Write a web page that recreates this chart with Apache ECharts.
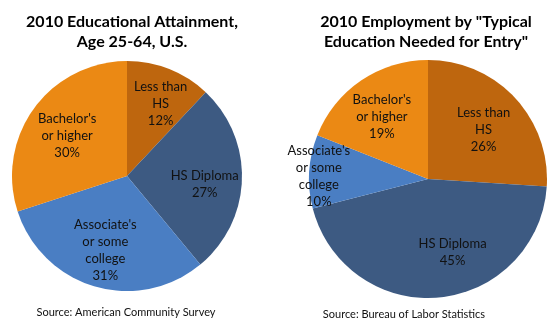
<!DOCTYPE html>
<html>
<head>
<meta charset="utf-8">
<script src="https://cdn.jsdelivr.net/npm/echarts@6/dist/echarts.min.js"></script>
<style>
html,body{margin:0;padding:0;background:#fff;}
#chart{width:559px;height:322px;}
</style>
</head>
<body>
<div id="chart"></div>
<script>
// Data
const categories = ["Less than\nHS", "HS Diploma", "Associate's\nor some\ncollege", "Bachelor's\nor higher"];
const attainmentValues = [12, 27, 31, 30];
const employmentValues = [26, 45, 10, 19];
const titles = ["2010 Educational Attainment,\nAge 25-64, U.S.", "2010 Employment by \"Typical\nEducation Needed for Entry\""];
const sources = ["Source: American Community Survey", "Source: Bureau of Labor Statistics"];

const colors = ["#BE660E", "#3D5A82", "#4A7EC3", "#EB8914"];
const FONT = "Lato, 'Open Sans', sans-serif";

function baseData(values) {
  return categories.map((c, i) => ({ name: c, value: values[i], itemStyle: { color: colors[i] } }));
}
function labelData(values) {
  return categories.map((c, i) => ({ name: c, value: values[i] }));
}

const pies = [
  { values: attainmentValues, center: [127, 176], r: 115 },
  { values: employmentValues, center: [428, 179], r: 119 }
];

// per-label nudges (pixels) for each pie, by slice index
const labelNudges = [
  [[5, 0], [0, 6], [0, 0], [3, 6]],
  [[-3, 6], [17, -7], [-29, 2], [-1, 4]]
];

const series = [];
pies.forEach((p, k) => {
  series.push({
    type: 'pie', center: p.center, radius: [0, p.r], startAngle: 90, clockwise: true,
    silent: true, animation: false, label: { show: false }, labelLine: { show: false },
    data: baseData(p.values)
  });
  series.push({
    type: 'pie', center: p.center, radius: [p.r * 0.3, p.r], startAngle: 90, clockwise: true,
    silent: true, animation: false,
    itemStyle: { color: 'rgba(0,0,0,0)' },
    label: {
      show: true, position: 'inside', formatter: '{b}\n{d}%',
      fontFamily: FONT, fontSize: 13, lineHeight: 17, color: '#111', align: 'center'
    },
    labelLine: { show: false },
    labelLayout: function (params) {
      const n = labelNudges[k][params.dataIndex];
      return { dx: n[0], dy: n[1] };
    },
    data: labelData(p.values)
  });
});

const chart = echarts.init(document.getElementById('chart'), null, { renderer: 'canvas' });
chart.setOption({
  backgroundColor: '#ffffff',
  title: [
    { text: titles[0], left: 127, top: 7, textAlign: 'center',
      textStyle: { fontFamily: FONT, fontSize: 16, fontWeight: 'bold', color: '#000', lineHeight: 20 } },
    { text: titles[1], left: 421, top: 7, textAlign: 'center',
      textStyle: { fontFamily: FONT, fontSize: 16, fontWeight: 'bold', color: '#000', lineHeight: 20 } },
    { text: sources[0], left: 121, top: 302, textAlign: 'center',
      textStyle: { fontFamily: FONT, fontSize: 11, fontWeight: 'normal', color: '#111' } },
    { text: sources[1], left: 399, top: 304, textAlign: 'center',
      textStyle: { fontFamily: FONT, fontSize: 11, fontWeight: 'normal', color: '#111' } }
  ],
  series: series
});
</script>
</body>
</html>
